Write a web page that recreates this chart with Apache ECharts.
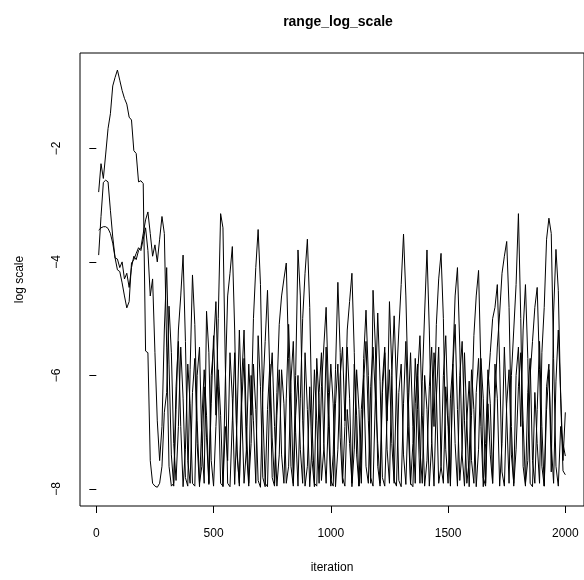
<!DOCTYPE html>
<html>
<head>
<meta charset="utf-8">
<script src="https://cdn.jsdelivr.net/npm/echarts@6/dist/echarts.min.js"></script>
<style>
html,body{margin:0;padding:0;background:#fff;}
#chart{width:584px;height:580px;}
</style>
</head>
<body>
<div id="chart"></div>
<script>
// iterations (thinned every 10)
const iterations = [];
for (let i = 1; i <= 200; i++) iterations.push(i * 10);

const xTicks = [0, 500, 1000, 1500, 2000];
const yTicks = [-8, -6, -4, -2];

const chainA = [
-2.77,-2.27,-2.53,-2.1,-1.65,-1.39,-0.9,-0.75,-0.62,-0.8,
-0.98,-1.12,-1.22,-1.45,-1.5,-2.04,-2.09,-2.59,-2.57,-2.62,
-5.57,-5.6,-7.5,-7.9,-7.95,-7.97,-7.9,-7.6,-6.65,-6.3,
-4.78,-5.6,-7.2,-7.85,-6.9,-5.5,-6.4,-7.8,-7.95,-5.9,
-4.23,-5.1,-6.8,-7.9,-7.6,-6.2,-7.1,-7.92,-6.5,-5.3,
-6.7,-5.0,-3.15,-3.4,-5.8,-7.9,-7.96,-6.8,-5.6,-7.3,
-7.95,-6.1,-5.2,-6.9,-7.9,-7.2,-5.8,-6.6,-7.85,-7.97,
-6.3,-5.4,-4.5,-6.0,-7.8,-7.95,-6.7,-5.9,-7.4,-7.9,
-6.4,-5.1,-6.3,-7.9,-6.0,-3.79,-4.6,-6.8,-7.95,-7.6,
-6.2,-7.5,-7.96,-5.7,-6.5,-7.85,-7.3,-5.5,-6.9,-7.95,
-7.4,-5.9,-4.36,-5.6,-7.8,-7.95,-6.6,-7.2,-7.9,-5.8,
-6.7,-7.95,-7.5,-6.1,-5.4,-6.8,-7.9,-4.5,-5.5,-7.6,
-7.95,-6.3,-5.6,-7.3,-7.9,-6.0,-4.95,-6.2,-7.85,-7.96,
-6.5,-5.4,-6.9,-7.92,-7.2,-5.7,-6.6,-7.9,-6.1,-4.9,
-3.79,-5.2,-7.1,-7.95,-6.4,-5.5,-7.6,-7.9,-6.2,-6.9,
-7.95,-5.9,-5.1,-6.6,-7.85,-7.3,-5.6,-6.8,-7.96,-6.7,
-5.3,-4.6,-4.15,-5.9,-7.8,-7.95,-6.5,-7.4,-7.9,-5.8,
-6.4,-7.95,-7.2,-5.5,-6.7,-7.9,-6.0,-5.2,-4.4,-3.15,
-5.0,-7.6,-7.95,-6.3,-5.7,-7.5,-7.9,-6.6,-5.4,-6.9,
-7.95,-6.2,-5.8,-7.7,-4.9,-3.78,-4.5,-6.4,-7.68,-7.75
];

const chainB = [
-3.88,-3.2,-2.6,-2.56,-2.59,-3.09,-3.56,-3.93,-3.95,-4.1,
-4.0,-4.3,-4.2,-4.45,-4.1,-3.9,-3.96,-3.8,-3.75,-3.5,
-3.26,-3.12,-3.5,-3.9,-3.7,-4.0,-3.6,-3.2,-3.5,-5.5,
-7.6,-7.95,-7.9,-6.2,-5.4,-6.9,-7.96,-7.3,-5.8,-6.5,
-7.9,-7.95,-6.0,-5.5,-7.2,-7.9,-4.87,-5.6,-7.5,-7.95,
-6.9,-5.9,-6.7,-7.96,-6.1,-4.6,-4.2,-3.73,-5.2,-7.4,
-7.9,-6.5,-5.7,-7.3,-7.95,-6.0,-6.8,-7.9,-5.3,-6.2,
-7.8,-7.96,-6.6,-5.8,-7.1,-7.9,-6.3,-5.1,-4.6,-4.3,
-4.02,-5.7,-7.6,-7.95,-6.7,-6.0,-7.3,-7.9,-5.6,-6.6,
-7.96,-7.2,-5.9,-6.8,-7.9,-6.2,-5.5,-4.8,-6.3,-7.85,
-7.95,-6.5,-5.8,-7.1,-7.9,-6.9,-5.5,-6.4,-7.96,-7.3,
-5.9,-6.6,-7.9,-5.7,-4.85,-6.0,-7.8,-7.95,-6.4,-7.2,
-7.9,-6.1,-5.5,-6.8,-4.7,-5.9,-7.85,-7.95,-6.3,-5.8,
-7.4,-7.92,-6.6,-5.6,-6.9,-7.9,-6.0,-5.3,-6.7,-7.95,
-7.5,-6.2,-5.5,-6.9,-5.1,-4.3,-3.85,-5.0,-7.3,-7.9,
-6.4,-5.8,-7.2,-7.95,-6.0,-5.4,-6.8,-7.9,-7.5,-5.9,
-6.6,-7.96,-7.3,-5.7,-6.4,-7.9,-6.2,-5.6,-5.0,-4.8,
-4.4,-5.8,-7.7,-7.95,-6.5,-5.9,-7.4,-7.9,-6.0,-5.5,
-6.9,-5.2,-4.4,-5.7,-7.9,-7.96,-6.3,-7.2,-7.9,-5.6,
-4.8,-3.6,-3.23,-3.5,-5.7,-7.6,-7.95,-6.9,-7.2,-7.42
];

const chainC = [
-3.44,-3.4,-3.38,-3.38,-3.41,-3.5,-3.67,-3.93,-4.14,-4.17,
-4.37,-4.6,-4.81,-4.7,-4.02,-3.96,-3.85,-3.75,-3.8,-3.6,
-3.4,-3.8,-4.6,-4.3,-5.6,-6.8,-7.5,-6.9,-5.2,-4.1,
-5.8,-7.4,-7.95,-6.6,-5.2,-4.6,-3.88,-5.4,-7.5,-7.9,
-6.3,-5.7,-7.2,-7.96,-6.8,-5.9,-6.7,-7.9,-6.0,-5.5,
-4.7,-6.2,-7.9,-7.95,-6.9,-7.5,-5.6,-6.4,-7.92,-6.8,
-5.2,-6.6,-7.9,-7.3,-5.8,-6.7,-5.0,-4.1,-3.43,-4.4,
-6.6,-7.9,-7.96,-6.2,-5.6,-6.9,-7.95,-7.4,-5.9,-6.5,
-7.9,-7.6,-6.1,-5.4,-7.0,-7.95,-6.4,-5.0,-4.2,-3.6,
-4.8,-6.9,-7.9,-7.95,-6.3,-5.6,-7.2,-7.9,-6.7,-5.8,
-6.5,-7.96,-7.3,-6.0,-5.5,-6.8,-5.2,-4.7,-4.2,-5.6,
-7.4,-7.95,-6.6,-6.0,-7.6,-7.9,-6.2,-5.5,-6.4,-4.9,
-6.1,-7.8,-7.95,-6.7,-5.9,-7.2,-7.9,-6.1,-5.2,-4.4,
-3.51,-4.6,-6.3,-7.9,-7.96,-6.5,-5.8,-7.3,-7.9,-6.0,
-6.6,-7.95,-7.2,-5.6,-6.3,-7.9,-7.6,-6.0,-5.3,-6.7,
-7.9,-5.8,-4.6,-4.1,-5.5,-7.4,-7.95,-6.8,-6.1,-7.5,
-7.9,-6.3,-5.7,-6.9,-7.96,-7.2,-5.9,-6.5,-7.9,-6.4,
-5.5,-4.9,-4.2,-3.9,-3.64,-4.8,-6.9,-7.95,-7.3,-6.2,
-5.6,-6.8,-7.9,-7.5,-6.0,-5.4,-4.8,-4.45,-5.9,-7.6,
-7.95,-6.6,-5.9,-7.2,-7.9,-6.1,-5.2,-6.3,-7.5,-6.65
];

const pair = (arr) => iterations.map((it, i) => [it, arr[i]]);
const FONT = '"Liberation Sans", Arial, Helvetica, sans-serif';

const chart = echarts.init(document.getElementById('chart'), null, {renderer: 'canvas'});
const lineSeries = (arr) => ({
  type: 'line', data: pair(arr), showSymbol: false, symbol: 'none',
  lineStyle: {color: '#000', width: 1}, animation: false, silent: true
});

chart.setOption({
  animation: false,
  backgroundColor: '#fff',
  title: {
    text: 'range_log_scale', left: 333, top: 10, textAlign: 'center',
    textStyle: {fontFamily: FONT, fontSize: 14, fontWeight: 'bold', color: '#000'}
  },
  grid: {left: 80, top: 53, width: 505.6, height: 453, show: true, borderColor: '#000', borderWidth: 1, backgroundColor: 'transparent'},
  xAxis: {
    type: 'value', min: -69.6, max: 2079.6,
    name: 'iteration', nameLocation: 'middle', nameGap: 56,
    nameTextStyle: {fontFamily: FONT, fontSize: 12, color: '#000'},
    axisLine: {show: false},
    splitLine: {show: false},
    axisTick: {show: true, inside: false, length: 7, lineStyle: {color: '#000', width: 1}, customValues: xTicks},
    axisLabel: {fontFamily: FONT, fontSize: 12, color: '#000', margin: 22, customValues: xTicks, formatter: v => String(v)}
  },
  yAxis: {
    type: 'value', min: -8.30, max: -0.32,
    name: 'log scale', nameLocation: 'middle', nameGap: 54, nameRotate: 90,
    nameTextStyle: {fontFamily: FONT, fontSize: 12, color: '#000'},
    axisLine: {show: false},
    splitLine: {show: false},
    axisTick: {show: true, inside: false, length: 7, lineStyle: {color: '#000', width: 1}, customValues: yTicks},
    axisLabel: {fontFamily: FONT, fontSize: 12, color: '#000', margin: 17, rotate: 90, customValues: yTicks, formatter: v => String(v).replace('-', '\u2212')}
  },
  series: [lineSeries(chainA), lineSeries(chainB), lineSeries(chainC)]
});
</script>
</body>
</html>
